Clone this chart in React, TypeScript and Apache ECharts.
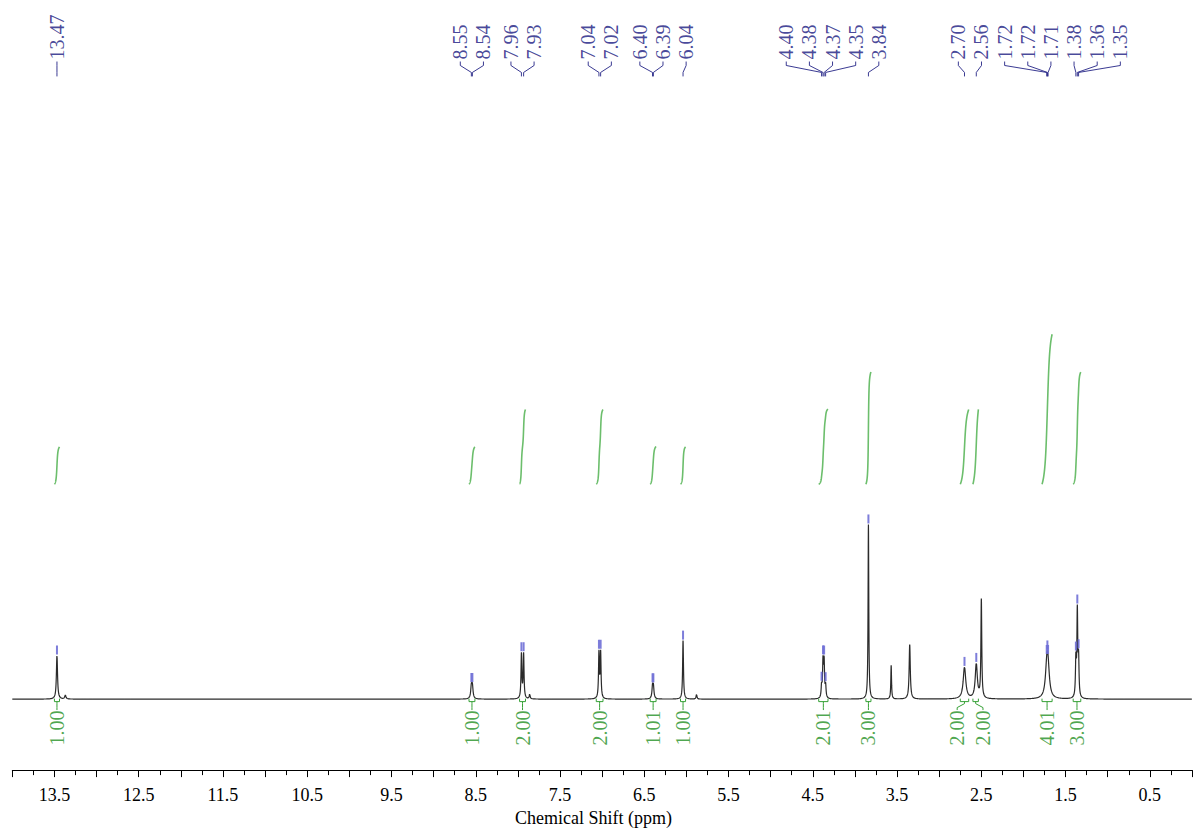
import React, { useEffect, useRef } from "react";
import * as echarts from "echarts";

// ---- Data ----
// individual resonance lines: position (ppm), apex height (intensity units), half width (ppm)
const linePpm = [13.47, 13.37, 8.552, 8.54, 7.958, 7.932, 7.86, 7.038, 7.018, 6.402, 6.392, 6.04, 5.88, 4.396, 4.379, 4.366, 4.348, 3.84, 3.57, 3.35, 2.7, 2.56, 2.5, 1.724, 1.716, 1.708, 1.378, 1.361, 1.346];
const lineHeight = [44, 4, 12, 12, 45, 45, 5, 46, 46, 11.5, 11.5, 59, 5, 12, 36, 36, 12, 176, 34, 55, 32, 35, 99, 18, 18, 18, 37, 86, 37];
const lineHwhm = [0.008, 0.008, 0.009, 0.009, 0.006, 0.006, 0.006, 0.006, 0.006, 0.008, 0.008, 0.006, 0.006, 0.006, 0.006, 0.006, 0.006, 0.005, 0.005, 0.008, 0.018, 0.015, 0.006, 0.02, 0.02, 0.02, 0.006, 0.006, 0.006];

// picked peaks
const peakLabels = ["13.47", "8.55", "8.54", "7.96", "7.93", "7.04", "7.02", "6.40", "6.39", "6.04", "4.40", "4.38", "4.37", "4.35", "3.84", "2.70", "2.56", "1.72", "1.72", "1.71", "1.38", "1.36", "1.35"];
const peakPpm = [13.47, 8.552, 8.54, 7.958, 7.932, 7.038, 7.018, 6.402, 6.392, 6.04, 4.396, 4.379, 4.366, 4.348, 3.84, 2.7, 2.56, 1.724, 1.716, 1.708, 1.378, 1.361, 1.346];

// integrals
const integralFrom = [13.5, 8.58, 7.98, 7.07, 6.43, 6.07, 4.43, 3.87, 2.75, 2.6, 1.78, 1.41];
const integralTo = [13.44, 8.51, 7.91, 6.99, 6.36, 6.01, 4.32, 3.81, 2.65, 2.535, 1.66, 1.32];
const integralValues = [1.0, 1.0, 2.0, 2.0, 1.01, 1.0, 2.01, 3.0, 2.0, 2.0, 4.01, 3.0];

// axis
const tickLabelValues = [13.5, 12.5, 11.5, 10.5, 9.5, 8.5, 7.5, 6.5, 5.5, 4.5, 3.5, 2.5, 1.5, 0.5];
const X_MIN = 0;
const X_MAX = 14;

// ---- Layout ----
const W = 1195;
const H = 832;
const GRID_LEFT = 12.3;
const GRID_WIDTH = 1187.8;
const AXIS_Y = 776;
const BASE_Y = 704.5;
const Y_MIN = -(AXIS_Y - BASE_Y);
const Y_MAX = BASE_Y;
const PX_PER_PPM = GRID_WIDTH / (X_MAX - X_MIN);
const INTEGRAL_UNIT = 37.7;
const INTEGRAL_BASE = BASE_Y - 488;

const FONT = '"Liberation Serif", "Times New Roman", serif';
const BLUE = "#18187F";
const GREEN = "#1F8F1F";
const LIGHT_GREEN = "#6CBE6C";

const ppmToPx = (p: number) => GRID_LEFT + (X_MAX - p) * PX_PER_PPM;
const pxToPpm = (x: number) => X_MAX - (x - GRID_LEFT) / PX_PER_PPM;
const yUnit = (yPx: number) => BASE_Y - yPx;

function spec(p: number): number {
  let s = 0;
  for (let k = 0; k < linePpm.length; k++) {
    const d = (p - linePpm[k]) / lineHwhm[k];
    s += lineHeight[k] / (1 + d * d);
  }
  return s;
}

function spread(ideal: number[], gap: number): number[] {
  const order = ideal.map((_, i) => i).sort((a, b) => ideal[a] - ideal[b]);
  const blocks: { idx: number[]; sum: number; start: number }[] = [];
  for (const i of order) {
    blocks.push({ idx: [i], sum: ideal[i], start: ideal[i] });
    while (blocks.length > 1) {
      const cur = blocks[blocks.length - 1];
      const prev = blocks[blocks.length - 2];
      if (prev.start + prev.idx.length * gap > cur.start) {
        const idx = prev.idx.concat(cur.idx);
        const sum = prev.sum + cur.sum;
        const start = sum / idx.length - ((idx.length - 1) * gap) / 2;
        blocks.splice(blocks.length - 2, 2, { idx, sum, start });
      } else break;
    }
  }
  const out: number[] = new Array(ideal.length);
  blocks.forEach((b) => b.idx.forEach((i, k) => (out[i] = b.start + k * gap)));
  return out;
}

export default function App() {
  const ref = useRef<HTMLDivElement>(null);

  useEffect(() => {
    if (!ref.current) return;
    const chart = echarts.init(ref.current, null, { renderer: "svg" });

    // spectrum trace
    const specData: number[][] = [];
    const N = 14000;
    for (let i = 0; i <= N; i++) {
      const p = X_MAX - (i * (X_MAX - X_MIN)) / N;
      specData.push([p, spec(p)]);
    }

    // integral traces
    const integralLines = integralValues.map((v, j) => {
      const n = 60;
      const ps: number[] = [];
      const vals: number[] = [];
      for (let k = 0; k <= n; k++) {
        const p = integralFrom[j] + ((integralTo[j] - integralFrom[j]) * k) / n;
        ps.push(p);
        vals.push(spec(p));
      }
      const cum: number[] = [0];
      for (let k = 1; k <= n; k++) cum.push(cum[k - 1] + (vals[k] + vals[k - 1]) / 2);
      const total = cum[n];
      return {
        coords: ps.map((p, k) => [p, INTEGRAL_BASE + (v * INTEGRAL_UNIT * cum[k]) / total]),
      };
    });

    // integral labels and brackets
    const intCenters = integralFrom.map((f, j) => (f + integralTo[j]) / 2);
    const intLabelX = spread(intCenters.map(ppmToPx), 26);
    const intBrackets: any[] = [];
    intCenters.forEach((c, j) => {
      const lp = pxToPpm(intLabelX[j]);
      intBrackets.push({
        coords: [
          [integralFrom[j], 0.5],
          [integralFrom[j], -2.5],
          [integralTo[j], -2.5],
          [integralTo[j], 0.5],
        ],
      });
      intBrackets.push({
        coords: [
          [c, -2.5],
          [c, -4.5],
          [lp, -8.5],
          [lp, -11],
        ],
      });
    });
    const intLabelData = integralValues.map((v, j) => ({
      value: [pxToPpm(intLabelX[j]), yUnit(716)],
      label: { formatter: v.toFixed(2) },
    }));

    // peak labels
    const peakLabelX = spread(peakPpm.map(ppmToPx), 23.3);
    const peakConnectors = peakPpm.map((p, i) => {
      const lp = pxToPpm(peakLabelX[i]);
      return {
        coords: [
          [lp, yUnit(62)],
          [lp, yUnit(66)],
          [p, yUnit(73)],
          [p, yUnit(77)],
        ],
      };
    });
    const peakLabelData = peakLabels.map((t, i) => ({
      value: [pxToPpm(peakLabelX[i]), yUnit(60)],
      label: { formatter: t },
    }));
    const markerData = peakPpm.map((p) => [p, spec(p) + 5.5]);

    const option: any = {
      animation: false,
      backgroundColor: "#ffffff",
      grid: {
        left: GRID_LEFT,
        top: 0,
        width: GRID_WIDTH,
        height: AXIS_Y,
        containLabel: false,
      },
      xAxis: {
        type: "value",
        min: X_MIN,
        max: X_MAX,
        interval: 0.5,
        inverse: true,
        name: "Chemical Shift (ppm)",
        nameLocation: "middle",
        nameGap: 34,
        nameTextStyle: {
          fontFamily: FONT,
          fontSize: 18,
          color: "#000",
          padding: [0, 2 * (GRID_LEFT + GRID_WIDTH / 2 - W / 2), 0, 0],
        },
        axisLine: { show: true, onZero: false, lineStyle: { color: "#000", width: 1 } },
        axisTick: { show: true, length: 7, lineStyle: { color: "#000" } },
        minorTick: { show: true, splitNumber: 2, length: 5, lineStyle: { color: "#000" } },
        splitLine: { show: false },
        axisLabel: {
          show: true,
          margin: 16,
          fontFamily: FONT,
          fontSize: 18,
          color: "#000",
          showMinLabel: true,
          showMaxLabel: true,
          formatter: (v: number) =>
            tickLabelValues.some((t) => Math.abs(t - v) < 1e-6) ? v.toFixed(1) : "",
        },
      },
      yAxis: {
        type: "value",
        min: Y_MIN,
        max: Y_MAX,
        show: false,
        splitLine: { show: false },
      },
      series: [
        {
          type: "line",
          data: specData,
          showSymbol: false,
          symbol: "none",
          lineStyle: { color: "#2b2b2b", width: 1.2 },
          clip: true,
          z: 3,
        },
        {
          type: "lines",
          coordinateSystem: "cartesian2d",
          polyline: true,
          data: integralLines,
          lineStyle: { color: LIGHT_GREEN, width: 1.6, opacity: 1 },
          z: 2,
        },
        {
          type: "lines",
          coordinateSystem: "cartesian2d",
          polyline: true,
          data: intBrackets,
          lineStyle: { color: "#35A035", width: 1, opacity: 1 },
          z: 4,
        },
        {
          type: "scatter",
          data: intLabelData,
          symbolSize: 1,
          itemStyle: { color: "rgba(0,0,0,0)" },
          label: {
            show: true,
            position: "inside",
            rotate: 90,
            align: "right",
            verticalAlign: "middle",
            fontFamily: FONT,
            fontSize: 20,
            color: GREEN,
          },
          z: 5,
        },
        {
          type: "lines",
          coordinateSystem: "cartesian2d",
          polyline: true,
          data: peakConnectors,
          lineStyle: { color: BLUE, width: 1, opacity: 0.85 },
          z: 4,
        },
        {
          type: "scatter",
          data: peakLabelData,
          symbolSize: 1,
          itemStyle: { color: "rgba(0,0,0,0)" },
          label: {
            show: true,
            position: "inside",
            rotate: 90,
            align: "left",
            verticalAlign: "middle",
            fontFamily: FONT,
            fontSize: 20,
            color: BLUE,
          },
          z: 5,
        },
        {
          type: "scatter",
          data: markerData,
          symbol: "rect",
          symbolSize: [2, 9],
          itemStyle: { color: "#6F6FD6", opacity: 0.9 },
          z: 4,
        },
      ],
    };

    chart.setOption(option);
    return () => chart.dispose();
  }, []);

  return (
    <div
      ref={ref}
      style={{ position: "absolute", left: 0, top: 0, width: W, height: H, background: "#fff" }}
    />
  );
}
